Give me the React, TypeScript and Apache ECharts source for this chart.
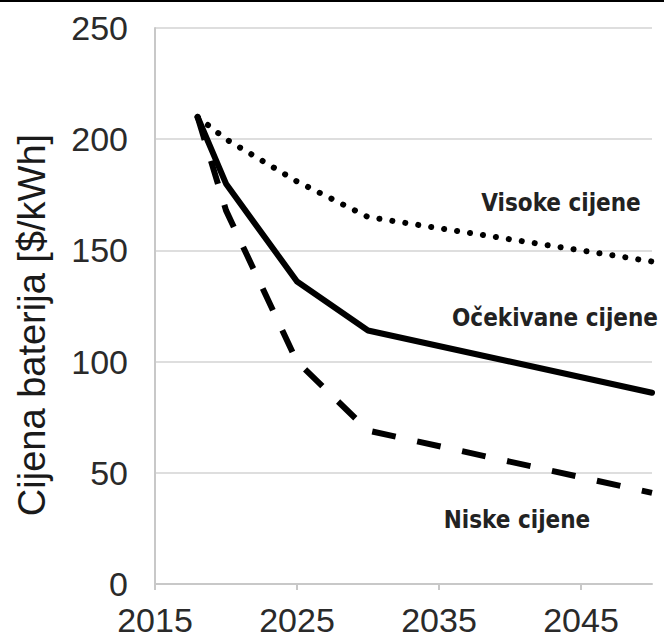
import React, { useEffect, useRef } from "react";
import * as echarts from "echarts";

const BASE_YEAR = 2015;
const xTickYears = [2015, 2025, 2035, 2045];
const yTicks = [0, 50, 100, 150, 200, 250];

const years = [2018, 2020, 2025, 2030, 2050];
const visoke = [210, 200, 181, 165, 145];
const ocekivane = [210, 180, 136, 114, 86];
const niske = [210, 168, 100, 69, 41];

const yTitle = "Cijena baterija [$/kWh]";
const labels = ["Visoke cijene", "Očekivane cijene", "Niske cijene"];

export default function App() {
  const ref = useRef<HTMLDivElement>(null);
  useEffect(() => {
    if (!ref.current) return;
    const chart = echarts.init(ref.current, undefined, { renderer: "svg" });
    const toPts = (vals: number[]) => years.map((y, i) => [y - BASE_YEAR, vals[i]]);
    const labFont = "'Liberation Sans Narrow', 'DejaVu Sans Condensed', sans-serif";
    const tickFont = "'Liberation Sans', Arial, sans-serif";
    chart.setOption({
      animation: false,
      backgroundColor: "#fff",
      grid: { left: 155, right: 12, top: 28, bottom: 55, containLabel: false },
      xAxis: {
        type: "value",
        min: 0,
        max: 35,
        interval: 10,
        axisLine: { show: true, lineStyle: { color: "#c8c8c8", width: 2 } },
        axisTick: { show: true, length: 6, lineStyle: { color: "#c8c8c8", width: 2 }, customValues: xTickYears.map((y) => y - BASE_YEAR) },
        axisLabel: {
          customValues: xTickYears.map((y) => y - BASE_YEAR),
          formatter: (v: number) => String(v + BASE_YEAR),
          fontFamily: tickFont,
          fontSize: 34,
          color: "#2a2a2a",
          margin: 19,
        },
        splitLine: { show: false },
      },
      yAxis: {
        type: "value",
        min: 0,
        max: 250,
        interval: 50,
        axisLine: { show: true, lineStyle: { color: "#c8c8c8", width: 2 } },
        axisTick: { show: false },
        axisLabel: {
          fontFamily: tickFont,
          fontSize: 34,
          color: "#2a2a2a",
          margin: 27,
          formatter: (v: number) => (yTicks.includes(v) ? String(v) : ""),
        },
        splitLine: { show: true, lineStyle: { color: "#dedede", width: 2 } },
      },
      series: [
        {
          type: "line",
          data: toPts(visoke),
          symbol: "none",
          lineStyle: { color: "#000", width: 6, type: [0.1, 13], cap: "round" },
        },
        {
          type: "line",
          data: toPts(ocekivane),
          symbol: "none",
          lineStyle: { color: "#000", width: 6, type: "solid", cap: "round", join: "round" },
        },
        {
          type: "line",
          data: toPts(niske),
          symbol: "none",
          lineStyle: { color: "#000", width: 6, type: [24, 22], cap: "butt" },
        },
      ],
      graphic: [
        { type: "rect", shape: { x: 0, y: 0, width: 664, height: 2 }, style: { fill: "#000" } },
        {
          type: "text",
          x: 32,
          y: 325,
          rotation: Math.PI / 2,
          style: { text: yTitle, font: `38px ${tickFont}`, fill: "#1a1a1a", align: "center", verticalAlign: "middle" },
        },
        {
          type: "text",
          x: 561,
          y: 203,
          style: { text: labels[0], font: `bold 24px ${labFont}`, fill: "#222", align: "center", verticalAlign: "middle" },
        },
        {
          type: "text",
          x: 555,
          y: 318,
          style: { text: labels[1], font: `bold 24px ${labFont}`, fill: "#222", align: "center", verticalAlign: "middle" },
        },
        {
          type: "text",
          x: 517,
          y: 520,
          style: { text: labels[2], font: `bold 24px ${labFont}`, fill: "#222", align: "center", verticalAlign: "middle" },
        },
      ],
    });
    return () => chart.dispose();
  }, []);
  return <div ref={ref} style={{ position: "fixed", left: 0, top: 0, width: 664, height: 639 }} />;
}
